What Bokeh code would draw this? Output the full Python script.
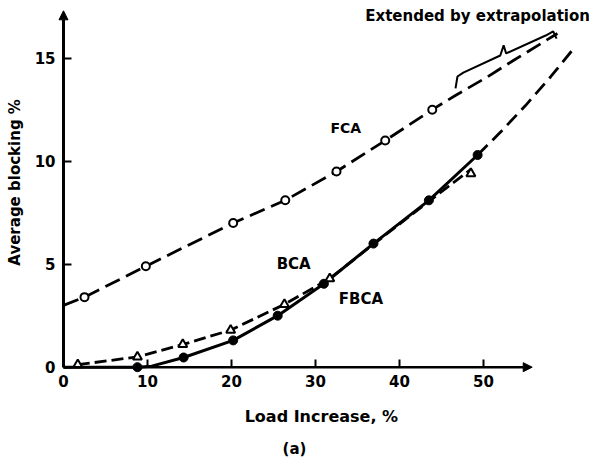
from bokeh.plotting import figure
from bokeh.models import Range1d, LinearAxis, FixedTicker, Arrow, NormalHead, Label
from bokeh.embed import file_html
from bokeh.resources import INLINE
import math

# ---- data -------------------------------------------------------------
# FCA: measured points and the dashed curve through them (extended by extrapolation)
fca_pts_x = [2.5, 9.8, 20.2, 26.4, 32.5, 38.3, 43.9]
fca_pts_y = [3.4, 4.9, 7.0, 8.1, 9.5, 11.0, 12.5]
fca_curve_x = [0, 2.5, 9.8, 20.2, 26.4, 32.5, 38.3, 43.9, 46.7, 50.5, 53.6, 58.8]
fca_curve_y = [3.0, 3.4, 4.9, 7.0, 8.1, 9.5, 11.0, 12.5, 13.2, 14.1, 14.9, 16.2]

# BCA: measured points (triangles) and its dashed curve
bca_pts_x = [1.7, 8.8, 14.2, 19.9, 26.3, 31.7, 48.5]
bca_pts_y = [0.12, 0.5, 1.1, 1.8, 3.05, 4.3, 9.4]
bca_curve_x = [1.7, 8.8, 14.2, 19.9, 26.3, 31.7, 37.0, 43.5, 48.5]
bca_curve_y = [0.12, 0.5, 1.1, 1.8, 3.05, 4.3, 6.0, 8.05, 9.6]

# FBCA: measured points (filled circles) and its solid curve
fbca_pts_x = [8.8, 14.3, 20.2, 25.5, 31.0, 36.9, 43.5, 49.3]
fbca_pts_y = [0.0, 0.47, 1.3, 2.5, 4.05, 6.0, 8.1, 10.3]
fbca_curve_x = [0, 8.8, 10.5, 14.3, 20.2, 25.5, 31.0, 36.9, 43.5, 49.3]
fbca_curve_y = [0, 0.0, 0.05, 0.47, 1.3, 2.5, 4.05, 6.0, 8.1, 10.3]

# BCA / FBCA extension beyond the last measurement
ext_x = [49.3, 52.0, 55.0, 58.0, 61.0]
ext_y = [10.3, 11.4, 12.7, 14.1, 15.6]

x_ticks = [0, 10, 20, 30, 40, 50]
y_ticks = [0, 5, 10, 15]

FONT = "DejaVu Sans"

# ---- figure -----------------------------------------------------------
p = figure(width=589, height=460, output_backend="svg", toolbar_location=None,
           x_range=Range1d(-7.5, 62.62), y_range=Range1d(-4.53, 17.80),
           x_axis_type=None, y_axis_type=None, min_border=0)
p.outline_line_color = None
p.background_fill_color = "white"

def style_axis(ax):
    ax.axis_line_color = None
    ax.major_tick_in = 8
    ax.major_tick_out = 0
    ax.major_tick_line_width = 2
    ax.major_tick_line_color = "black"
    ax.minor_tick_line_color = None
    ax.major_label_text_font = FONT
    ax.major_label_text_font_style = "bold"
    ax.major_label_text_font_size = "15px"
    ax.major_label_text_color = "black"
    ax.major_label_standoff = 8

xaxis = LinearAxis(fixed_location=0, ticker=FixedTicker(ticks=x_ticks))
style_axis(xaxis)
p.add_layout(xaxis, "below")

yaxis = LinearAxis(fixed_location=0, ticker=FixedTicker(ticks=y_ticks))
style_axis(yaxis)
p.add_layout(yaxis, "left")

# axis lines with arrow heads
p.add_layout(Arrow(end=NormalHead(size=9, line_color="black", fill_color="black"),
                   x_start=0, y_start=0, x_end=55.8, y_end=0,
                   line_width=2.5, line_color="black"))
p.add_layout(Arrow(end=NormalHead(size=9, line_color="black", fill_color="black"),
                   x_start=0, y_start=0, x_end=0, y_end=17.3,
                   line_width=3, line_color="black"))

# curves
p.line(fca_curve_x, fca_curve_y, line_color="black", line_width=2.8, line_dash="16 7")
p.line(bca_curve_x, bca_curve_y, line_color="black", line_width=2.8, line_dash="12 5")
p.line(fbca_curve_x, fbca_curve_y, line_color="black", line_width=3)
p.line(ext_x, ext_y, line_color="black", line_width=2.8, line_dash="14 7")

# markers
p.scatter(fca_pts_x, fca_pts_y, marker="circle", size=8, line_color="black",
          line_width=2, fill_color="white")
p.scatter(bca_pts_x, bca_pts_y, marker="triangle", size=9, line_color="black",
          line_width=2, fill_color="white")
p.scatter(fbca_pts_x, fbca_pts_y, marker="circle", size=9, line_color="black",
          fill_color="black")

# brace marking the extrapolated part
brace_x = [46.67, 46.9, 47.6, 52.0, 52.4, 52.7, 57.4, 58.3, 58.7]
brace_y = [13.53, 14.11, 14.3, 15.13, 15.62, 15.23, 16.1, 16.3, 15.95]
p.line(brace_x, brace_y, line_color="black", line_width=2)

def label(x, y, text, size, angle=0.0):
    p.add_layout(Label(x=x, y=y, text=text, text_font=FONT, text_font_style="bold",
                       text_font_size=size, text_align="center",
                       text_baseline="middle", angle=angle, text_color="black"))

label(49.3, 17.03, "Extended by extrapolation", "15px")
label(33.6, 11.63, "FCA", "14px")
label(27.4, 4.99, "BCA", "15px")
label(35.4, 3.33, "FBCA", "15px")
label(30.7, -2.39, "Load Increase, %", "16px")
label(27.5, -3.95, "(a)", "15px")
label(-5.83, 8.97, "Average blocking %", "15px", angle=math.pi / 2)

open("out.html", "w").write(file_html(p, INLINE))
